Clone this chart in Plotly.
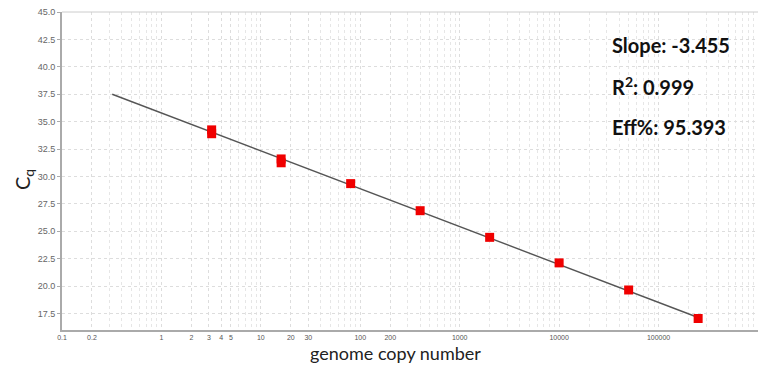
import plotly.graph_objects as go
import numpy as np

copies = [3.2, 3.2, 16, 16, 80, 400, 2000, 10000, 50000, 250000]
cq = [34.25, 33.9, 31.6, 31.25, 29.35, 26.88, 24.45, 22.12, 19.65, 17.05]

fit_x = [0.32, 250000]
slope = -3.455
intercept = 35.79
fit_y = [intercept + slope * np.log10(v) for v in fit_x]

x_tickvals = [0.1, 0.2, 1, 2, 3, 4, 5, 10, 20, 30, 100, 200, 1000, 10000, 100000]
x_ticktext = ["0.1", "0.2", "1", "2", "3", "4", "5", "10", "20", "30", "100", "200", "1000", "10000", "100000"]
y_tickvals = [17.5, 20.0, 22.5, 25.0, 27.5, 30.0, 32.5, 35.0, 37.5, 40.0, 42.5, 45.0]

stats = ["<b>Slope: -3.455</b>", "<b>R<sup>2</sup>: 0.999</b>", "<b>Eff%: 95.393</b>"]

W, H = 758, 367
ml, mr, mt, mb = 62, 0, 12, 37
pw, ph = W - ml - mr, H - mt - mb


def px_to_paper(px, py):
    return (px - ml) / pw, 1 - (py - mt) / ph


fig = go.Figure()
fig.add_trace(go.Scatter(x=fit_x, y=fit_y, mode="lines",
                         line=dict(color="#555555", width=1.4), showlegend=False))
fig.add_trace(go.Scatter(x=copies, y=cq, mode="markers",
                         marker=dict(symbol="square", size=9, color="#f00000",
                                     line=dict(width=0)), showlegend=False))

for i, s in enumerate(stats):
    ax, ay = px_to_paper(610, 45 + i * 41)
    fig.add_annotation(x=ax, y=ay, xref="paper", yref="paper", text=s,
                       showarrow=False, xanchor="left", yanchor="middle",
                       font=dict(family="Lato, Open Sans, sans-serif", size=20, color="#111111"))

tx, ty = px_to_paper(395, 353)
fig.add_annotation(x=tx, y=ty, xref="paper", yref="paper", text="genome copy number",
                   showarrow=False, xanchor="center", yanchor="middle",
                   font=dict(family="Lato, Open Sans, sans-serif", size=18, color="#222222"))
cx, cy = px_to_paper(23, 180)
fig.add_annotation(x=cx, y=cy, xref="paper", yref="paper", text="C<sub>q</sub>",
                   showarrow=False, xanchor="center", yanchor="middle", textangle=-90,
                   font=dict(family="Lato, Open Sans, sans-serif", size=20, color="#222222"))

fig.update_layout(
    width=W, height=H,
    margin=dict(l=ml, r=mr, t=mt, b=mb),
    paper_bgcolor="white", plot_bgcolor="white",
    font=dict(family="Liberation Sans, Arial, sans-serif", color="#666666"),
    xaxis=dict(type="log", range=[-1, 6], tickvals=x_tickvals, ticktext=x_ticktext,
               tickfont=dict(size=7, color="#555555"), automargin=False,
               showgrid=True, gridcolor="#dddddd", griddash="dot", gridwidth=1,
               minor=dict(dtick="D1", showgrid=True, gridcolor="#e6e6e6", griddash="dot", ticks=""),
               showline=True, linecolor="#aaaaaa", linewidth=2, mirror=False,
               ticks="", zeroline=False),
    yaxis=dict(range=[16, 45], tickvals=y_tickvals, tickformat=".1f",
               tickfont=dict(size=9, color="#666666"), automargin=False,
               showgrid=True, gridcolor="#dddddd", griddash="dot", gridwidth=1,
               showline=True, linecolor="#aaaaaa", linewidth=2,
               ticks="outside", ticklen=3, tickcolor="#aaaaaa",
               zeroline=False),
)
fig.add_shape(type="line", xref="paper", yref="paper", x0=0, x1=1, y0=1, y1=1,
              line=dict(color="#cccccc", width=1))

fig.write_html("out.html", config={"displayModeBar": False},
               post_script="document.body.style.margin='0';")
